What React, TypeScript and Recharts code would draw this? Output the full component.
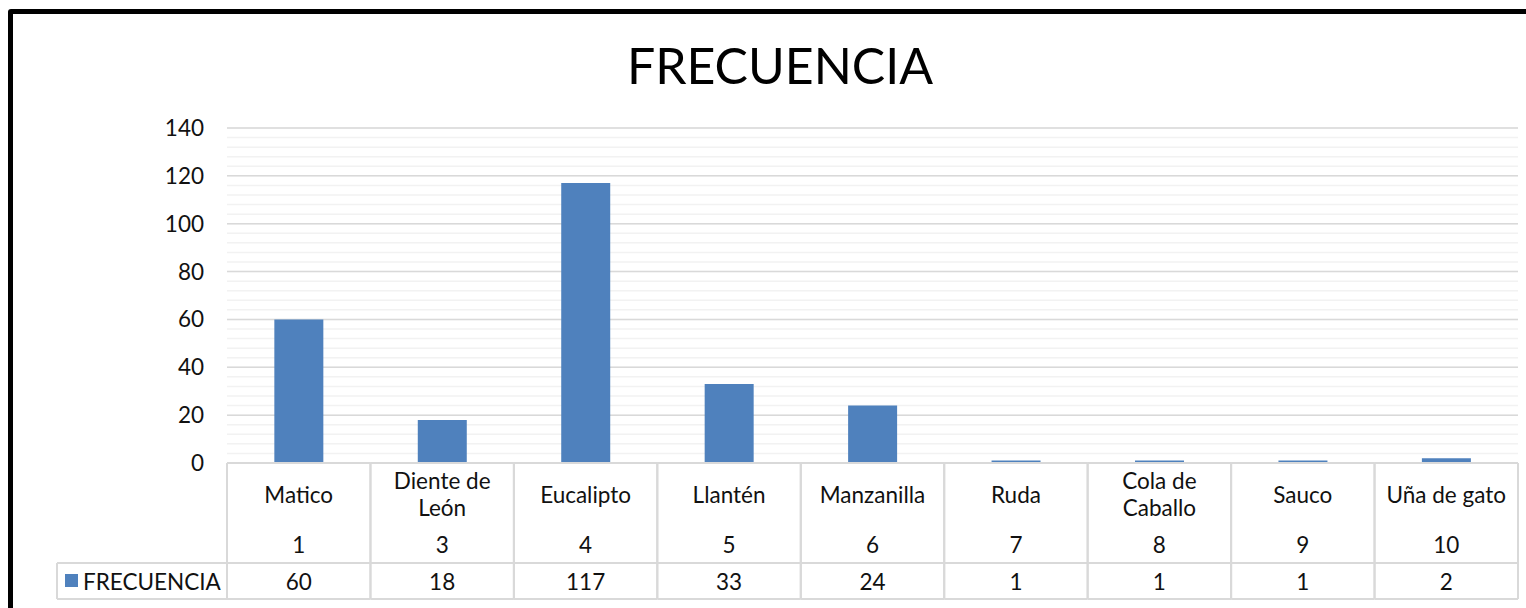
import { BarChart, Bar, XAxis, YAxis, CartesianGrid } from 'recharts';

// datos de la tabla
const categories = ['Matico', 'Diente de León', 'Eucalipto', 'Llantén', 'Manzanilla', 'Ruda', 'Cola de Caballo', 'Sauco', 'Uña de gato'];
const codes = [1, 3, 4, 5, 6, 7, 8, 9, 10];
const frecuencia = [60, 18, 117, 33, 24, 1, 1, 1, 2];
const yTicks = [0, 20, 40, 60, 80, 100, 120, 140];
const minorTicks = Array.from({ length: 36 }, (_, i) => i * 4);

const W = 1526;
const H = 608;
const Y_AXIS_W = 227;
const RIGHT = 8;
const X_AXIS_H = 145;
const CELL_W = (W - Y_AXIS_W - RIGHT) / categories.length;
const FONT = 'Lato, "Liberation Sans", sans-serif';
const FS = 22.5;
const BLUE = '#4F81BD';
const BORDER = '#D9D9D9';

const data = categories.map((name, i) => ({ name, code: codes[i], value: frecuencia[i] }));

function wrap(label: string) {
  if (label.length <= 12) return [label];
  const words = label.split(' ');
  const lines: string[] = [];
  let cur = '';
  for (const w of words) {
    const next = cur ? cur + ' ' + w : w;
    if (next.length > 10 && cur) {
      lines.push(cur);
      cur = w;
    } else cur = next;
  }
  if (cur) lines.push(cur);
  return lines;
}

const TableTick = (props: any) => {
  const { x, y, payload } = props;
  const i = payload.index ?? props.index ?? 0;
  const left = x - CELL_W / 2;
  const right = x + CELL_W / 2;
  const rowSplit = y + 100;
  const bottom = y + 136;
  const lines = wrap(String(payload.value));
  const labelMid = y + 31;
  const lineH = 27;
  return (
    <g>
      <line x1={left} y1={y} x2={right} y2={y} stroke={BORDER} strokeWidth={2} />
      <line x1={left} y1={rowSplit} x2={right} y2={rowSplit} stroke={BORDER} strokeWidth={2} />
      <line x1={left} y1={bottom} x2={right} y2={bottom} stroke={BORDER} strokeWidth={2} />
      <line x1={left} y1={y} x2={left} y2={bottom} stroke={BORDER} strokeWidth={2} />
      <line x1={right} y1={y} x2={right} y2={bottom} stroke={BORDER} strokeWidth={2} />
      {lines.map((ln, k) => (
        <text
          key={k}
          x={x}
          y={labelMid + (k - (lines.length - 1) / 2) * lineH}
          textAnchor="middle"
          dominantBaseline="central"
          fontSize={FS}
          fontFamily={FONT}
          fill="#111"
        >
          {ln}
        </text>
      ))}
      <text x={x} y={y + 81} textAnchor="middle" dominantBaseline="central" fontSize={FS} fontFamily={FONT} fill="#111">
        {codes[i]}
      </text>
      <text x={x} y={y + 118} textAnchor="middle" dominantBaseline="central" fontSize={FS} fontFamily={FONT} fill="#111">
        {frecuencia[i]}
      </text>
      {i === 0 && (
        <g>
          <line x1={57} y1={rowSplit} x2={left} y2={rowSplit} stroke={BORDER} strokeWidth={2} />
          <line x1={57} y1={bottom} x2={left} y2={bottom} stroke={BORDER} strokeWidth={2} />
          <line x1={57} y1={rowSplit} x2={57} y2={bottom} stroke={BORDER} strokeWidth={2} />
          <rect x={65} y={rowSplit + 11} width={13} height={13} fill={BLUE} />
          <text x={83} y={y + 118} dominantBaseline="central" fontSize={FS} fontFamily={FONT} fill="#111">
            FRECUENCIA
          </text>
        </g>
      )}
    </g>
  );
};

const minorLines = ({ offset }: any) =>
  minorTicks.map((v) => offset.top + offset.height * (1 - v / 140));

export default function App() {
  return (
    <div style={{ position: 'absolute', left: 0, top: 0, width: W, height: H, overflow: 'hidden', background: '#fff' }}>
      <div
        style={{
          position: 'absolute',
          left: 8,
          top: 9,
          width: W + 100,
          height: H + 100,
          border: '5px solid #000',
          borderRadius: 3,
        }}
      />
      <div
        style={{
          position: 'absolute',
          left: 0,
          top: 30,
          width: 1560,
          textAlign: 'center',
          fontFamily: FONT,
          fontSize: 50,
          lineHeight: '70px',
          color: '#000',
        }}
      >
        FRECUENCIA
      </div>
      <div style={{ position: 'absolute', left: 0, top: 0 }}>
        <BarChart width={W} height={H} data={data} margin={{ top: 128, right: RIGHT, bottom: 0, left: 0 }} barCategoryGap="33%">
          <CartesianGrid vertical={false} stroke="#F2F2F2" strokeWidth={1.5} horizontalCoordinatesGenerator={minorLines} />
          <CartesianGrid vertical={false} stroke={BORDER} strokeWidth={1.5} />
          <XAxis
            dataKey="name"
            height={X_AXIS_H}
            axisLine={false}
            tickLine={false}
            tickSize={0}
            tickMargin={0}
            interval={0}
            tick={<TableTick />}
          />
          <YAxis
            width={Y_AXIS_W}
            domain={[0, 140]}
            ticks={yTicks}
            axisLine={false}
            tickLine={false}
            tickSize={0}
            tickMargin={23}
            tick={{ fontSize: FS, fontFamily: FONT, fill: '#111' }}
          />
          <Bar dataKey="value" fill={BLUE} isAnimationActive={false} />
        </BarChart>
      </div>
    </div>
  );
}
